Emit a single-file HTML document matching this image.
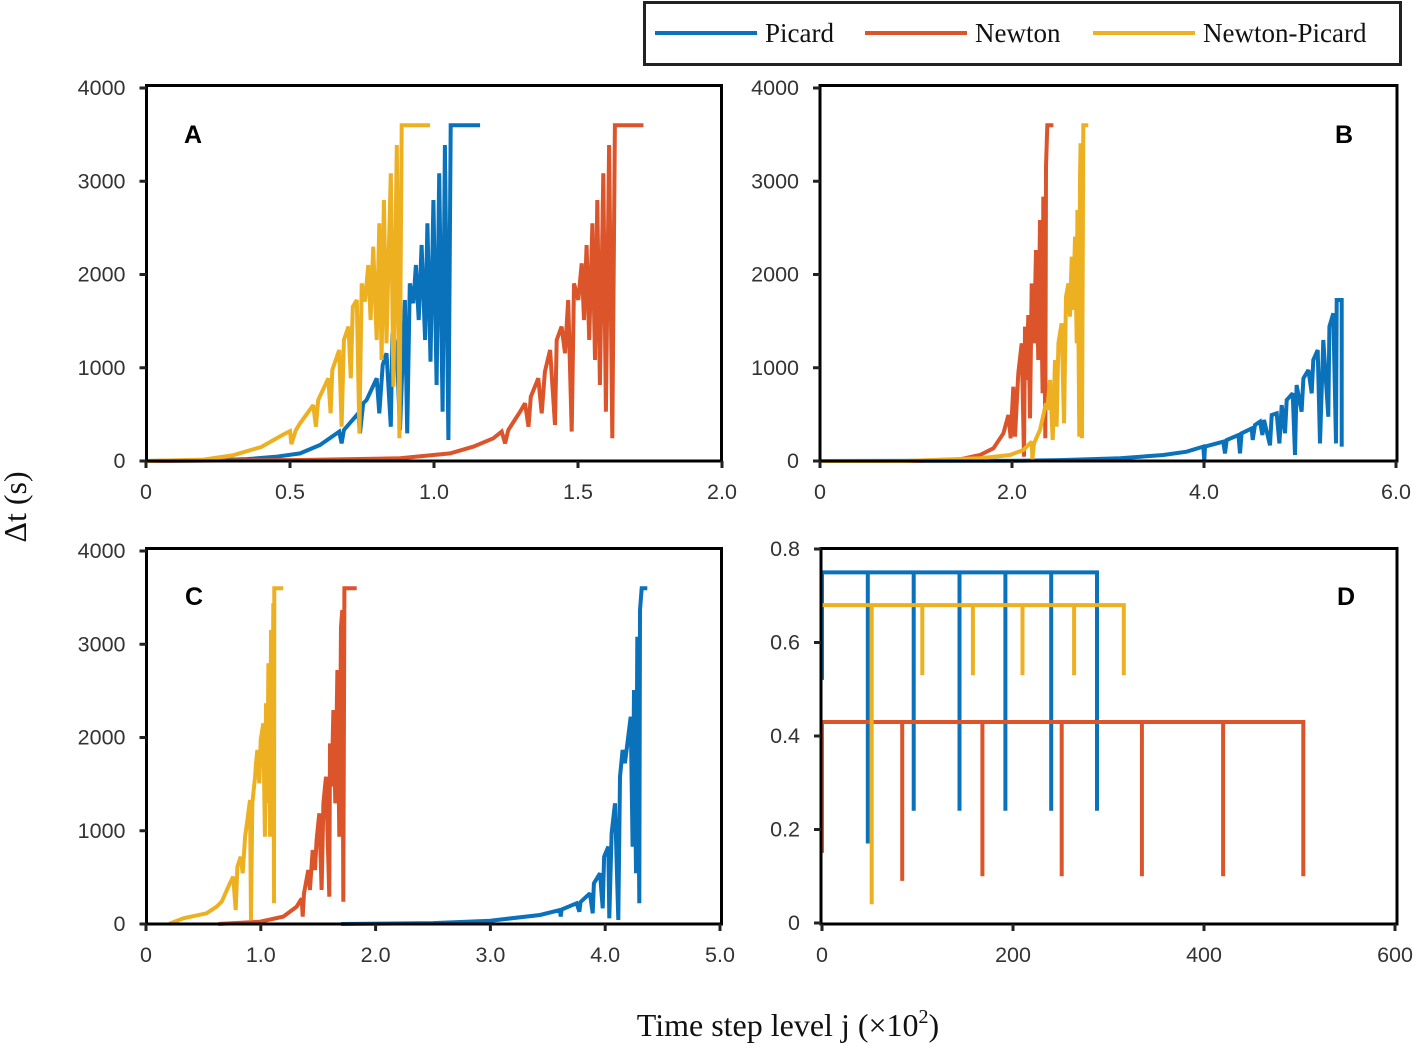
<!DOCTYPE html>
<html><head><meta charset="utf-8"><style>
html,body{margin:0;padding:0;background:#fff;}
svg{display:block;}
.tk{font-family:"Liberation Sans",Arial,sans-serif;font-size:21.5px;fill:#333;}
.pl{font-family:"Liberation Sans",Arial,sans-serif;font-size:25px;font-weight:bold;fill:#000;}
.sf{font-family:"Liberation Serif","Times New Roman",serif;fill:#111;}
</style></head><body>
<svg id="chart" width="1414" height="1044" viewBox="0 0 1414 1044" xmlns="http://www.w3.org/2000/svg">
<g id="legend">
<rect x="644.5" y="2.5" width="756" height="62" fill="#fff" stroke="#222" stroke-width="3"/>
<line x1="655" y1="33" x2="757" y2="33" stroke="#0a72ba" stroke-width="4"/>
<text class="sf" x="765" y="42" font-size="27">Picard</text>
<line x1="865" y1="33" x2="967" y2="33" stroke="#dc5429" stroke-width="4"/>
<text class="sf" x="975" y="42" font-size="27">Newton</text>
<line x1="1093" y1="33" x2="1195" y2="33" stroke="#ecb021" stroke-width="4"/>
<text class="sf" x="1203" y="42" font-size="27">Newton-Picard</text>
</g>
<text class="sf" x="0" y="0" font-size="32" text-anchor="middle" transform="translate(26,507) rotate(-90)">Δt (s)</text>
<text class="sf" x="788" y="1036" font-size="32" text-anchor="middle">Time step level j (×10<tspan dy="-13" font-size="20">2</tspan><tspan dy="13">)</tspan></text>
</svg>
<script>
// ---------- Panel A data ----------
const aPicX=[0,0.2,0.35,0.45,0.535,0.604,0.671,0.679,0.687,0.737,0.743,0.754,0.766,0.801,0.810,0.822,0.835,0.850,0.856,0.871,0.882,0.899,0.907,0.916,0.928,0.937,0.947,0.957,0.969,0.977,0.988,0.998,1.009,1.018,1.030,1.038,1.050,1.058,1.160];
const aPicY=[0,5,20,45,82,172,315,189,332,511,297,619,654,887,511,1029,1155,368,1369,1190,332,1727,297,1905,1691,2102,1512,2316,1298,2549,1065,2799,815,3085,529,3389,225,3600,3600];
const aNewX=[0,0.535,0.882,1.056,1.137,1.206,1.235,1.247,1.258,1.299,1.316,1.328,1.336,1.362,1.374,1.385,1.403,1.420,1.426,1.443,1.455,1.466,1.478,1.486,1.501,1.513,1.521,1.530,1.539,1.550,1.559,1.567,1.576,1.588,1.597,1.608,1.619,1.628,1.727];
const aNewY=[0,11,29,82,154,243,315,189,332,529,619,368,690,887,511,958,1190,386,1298,1441,1155,1727,315,1905,1727,2120,1512,2316,1298,2549,1083,2799,815,3085,529,3389,243,3600,3600];
const aNpX=[0,0.2,0.3,0.4,0.48,0.5,0.505,0.52,0.535,0.581,0.590,0.598,0.633,0.641,0.647,0.671,0.679,0.687,0.703,0.711,0.718,0.732,0.741,0.749,0.760,0.772,0.780,0.789,0.801,0.810,0.818,0.826,0.835,0.850,0.859,0.871,0.880,0.888,0.986];
const aNpY=[0,15,60,150,290,320,180,330,404,600,368,654,887,511,976,1190,368,1298,1441,887,1655,1727,297,1905,1709,2102,1512,2298,1298,2549,1083,2799,1262,3085,797,3389,243,3600,3600];
// ---------- Panel B data ----------
const bPicX=[0,2.0,2.5,3.125,3.576,3.819,3.993,4.003,4.010,4.201,4.219,4.236,4.358,4.375,4.392,4.497,4.507,4.531,4.583,4.608,4.625,4.688,4.705,4.757,4.785,4.809,4.844,4.861,4.924,4.948,4.965,5.017,5.035,5.087,5.122,5.139,5.184,5.208,5.243,5.295,5.306,5.347,5.375,5.382,5.434,5.434];
const bPicY=[0,2,10,29,64,100,154,1,154,207,82,225,279,82,297,350,225,386,422,279,440,168,493,511,189,600,297,654,726,64,815,529,887,976,726,1083,1190,189,1298,475,1440,1584,189,1727,1727,154];
const bNewX=[0,1.0,1.458,1.667,1.806,1.910,1.962,1.986,2.014,2.031,2.066,2.101,2.125,2.135,2.153,2.170,2.188,2.205,2.229,2.250,2.274,2.292,2.319,2.326,2.347,2.354,2.368,2.431];
const bNewY=[0,0,18,64,136,297,493,243,797,261,940,1262,46,1441,869,1566,458,1905,1262,2263,1083,2584,726,2835,243,3156,3600,3600];
const bNpX=[0,0.9,1.667,1.979,2.118,2.205,2.212,2.229,2.292,2.354,2.368,2.396,2.424,2.448,2.465,2.483,2.517,2.542,2.563,2.587,2.604,2.622,2.639,2.656,2.674,2.681,2.701,2.708,2.715,2.729,2.743,2.795];
const bNpY=[0,0,29,64,118,207,18,189,332,619,547,869,225,1083,368,1262,1477,404,1762,1905,1548,2191,1619,2406,1262,2692,261,3049,3407,243,3600,3600];
// ---------- Panel C data ----------
const cPicX=[1.7,2.5,3.0,3.432,3.606,3.612,3.62,3.751,3.775,3.785,3.867,3.891,3.902,3.955,3.978,3.990,4.027,4.036,4.056,4.085,4.114,4.129,4.152,4.172,4.193,4.222,4.239,4.251,4.268,4.280,4.297,4.303,4.318,4.367];
const cPicY=[0,10,35,97,150,79,155,222,132,235,329,115,436,544,168,722,829,61,972,1294,43,1580,1866,1723,1937,2223,829,2509,544,3081,222,3367,3600,3600];
const cNewX=[0.63,0.993,1.196,1.312,1.356,1.365,1.376,1.414,1.428,1.452,1.472,1.486,1.510,1.530,1.545,1.568,1.597,1.603,1.617,1.632,1.649,1.667,1.684,1.699,1.710,1.719,1.728,1.835];
const cNewY=[0,25,79,186,275,79,329,579,365,794,579,901,1187,365,1294,1580,293,1937,1473,2295,1294,2724,936,3188,3367,239,3600,3600];
const cNpX=[0.2,0.325,0.528,0.615,0.659,0.731,0.760,0.781,0.796,0.825,0.842,0.863,0.883,0.906,0.915,0.926,0.950,0.958,0.970,0.987,0.999,1.022,1.036,1.045,1.057,1.066,1.080,1.089,1.103,1.109,1.115,1.118,1.196];
const cNpY=[0,61,115,186,239,436,507,150,615,722,544,936,1115,1330,43,1294,1580,1723,1866,1508,1973,2152,936,2367,1294,2796,936,3153,1651,3439,222,3600,3600];
// ---------- Panel D data ----------
const dPicStart=0.52, dPicLevel=0.75;
const dPicDropX=[48,96,144,192,240,288];
const dPicDropY=[0.17,0.24,0.24,0.24,0.24,0.24];
const dNewStart=0.15, dNewLevel=0.43;
const dNewDropX=[84,168,251,335,420,504];
const dNewDropY=[0.09,0.10,0.10,0.10,0.10,0.10];
const dNpStart=0.68, dNpLevel=0.68;
const dNpDropX=[52,105,158,210,264,316];
const dNpDropY=[0.04,0.53,0.53,0.53,0.53,0.53];
// tick labels
const tickDt=["0","1000","2000","3000","4000"];
const tickDtVals=[0,1000,2000,3000,4000];
const tickAx=["0","0.5","1.0","1.5","2.0"], tickAxVals=[0,0.5,1.0,1.5,2.0];
const tickBx=["0","2.0","4.0","6.0"], tickBxVals=[0,2,4,6];
const tickCx=["0","1.0","2.0","3.0","4.0","5.0"], tickCxVals=[0,1,2,3,4,5];
const tickDx=["0","200","400","600"], tickDxVals=[0,200,400,600];
const tickDy=["0","0.2","0.4","0.6","0.8"], tickDyVals=[0,0.2,0.4,0.6,0.8];

const NS="http://www.w3.org/2000/svg";
const svg=document.getElementById('chart');
const COL={pic:"#0a72ba",new:"#dc5429",np:"#ecb021"};
function mk(tag,attrs,parent){const e=document.createElementNS(NS,tag);for(const k in attrs)e.setAttribute(k,attrs[k]);(parent||svg).appendChild(e);return e;}

function panel(id,box,sx,sy,xt,xtv,yt,ytv,letter,lx,ly){
  const g=mk('g',{});
  
  
  return {g,sx,sy,box,draw(){
    const fr=mk('path',{d:`M${box.x0},${box.y1} L${box.x0},${box.y0} L${box.x1},${box.y0} L${box.x1},${box.y1} Z`,fill:'none',stroke:'#000','stroke-width':3},g);
    
    
    xtv.forEach((v,i)=>{
      const x=sx(v);
      const t=mk('line',{x1:x,y1:box.y1,x2:x,y2:box.y1+7,stroke:'#222','stroke-width':3},g);
      
      
      const l=mk('text',{x:x,y:box.y1+38,'text-anchor':'middle',class:'tk'},g);
      
      
      l.textContent=xt[i];
    });
    ytv.forEach((v,i)=>{
      const y=sy(v);
      const t=mk('line',{x1:box.x0-7,y1:y,x2:box.x0,y2:y,stroke:'#222','stroke-width':3},g);
      
      
      const l=mk('text',{x:box.x0-21,y:y+7,'text-anchor':'end',class:'tk'},g);
      
      
      l.textContent=yt[i];
    });
    const L=mk('text',{x:lx,y:ly,'text-anchor':'middle',class:'pl'},g);
    
    
    L.textContent=letter;
  }};
}
function series(p,xs,ys,col,name){
  let d='';
  xs.forEach((x,i)=>{d+=(i?'L':'M')+p.sx(x).toFixed(1)+','+p.sy(ys[i]).toFixed(1)+' ';});
  const e=mk('path',{d:d,fill:'none',stroke:col,'stroke-width':4,'stroke-linejoin':'miter','stroke-miterlimit':2},p.g);
  
  
}
function stepSeries(p,start,level,dx,dy,col,name){
  const xs=[0,0],ys=[start,level];
  dx.forEach((x,i)=>{xs.push(x,x);ys.push(level,dy[i]);if(i<dx.length-1){xs.push(x);ys.push(level);}});
  series(p,xs,ys,col,name);
}

const A=panel('a',{x0:146.5,x1:721.5,y0:85.5,y1:461},v=>146+v*288,v=>461-v*0.09325,tickAx,tickAxVals,tickDt,tickDtVals,'A',193,143);
series(A,aPicX,aPicY,COL.pic,'series-picard-a');
series(A,aNewX,aNewY,COL.new,'series-newton-a');
series(A,aNpX,aNpY,COL.np,'series-newton-picard-a');
A.draw();

const B=panel('b',{x0:820,x1:1397,y0:85.5,y1:461},v=>820+v*96,v=>461-v*0.09325,tickBx,tickBxVals,tickDt,tickDtVals,'B',1344,143);
series(B,bPicX,bPicY,COL.pic,'series-picard-b');
series(B,bNewX,bNewY,COL.new,'series-newton-b');
series(B,bNpX,bNpY,COL.np,'series-newton-picard-b');
B.draw();

const C=panel('c',{x0:146.5,x1:721.5,y0:548.5,y1:924},v=>146+v*114.8,v=>924-v*0.09325,tickCx,tickCxVals,tickDt,tickDtVals,'C',194,605);
series(C,cPicX,cPicY,COL.pic,'series-picard-c');
series(C,cNewX,cNewY,COL.new,'series-newton-c');
series(C,cNpX,cNpY,COL.np,'series-newton-picard-c');
C.draw();

const D=panel('d',{x0:821,x1:1397,y0:548.5,y1:924},v=>822+v*0.955,v=>923-v*467.5,tickDx,tickDxVals,tickDy,tickDyVals,'D',1346,605);
stepSeries(D,dPicStart,dPicLevel,dPicDropX,dPicDropY,COL.pic,'series-picard-d');
stepSeries(D,dNewStart,dNewLevel,dNewDropX,dNewDropY,COL.new,'series-newton-d');
stepSeries(D,dNpStart,dNpLevel,dNpDropX,dNpDropY,COL.np,'series-newton-picard-d');
D.draw();
</script>
</body></html>
